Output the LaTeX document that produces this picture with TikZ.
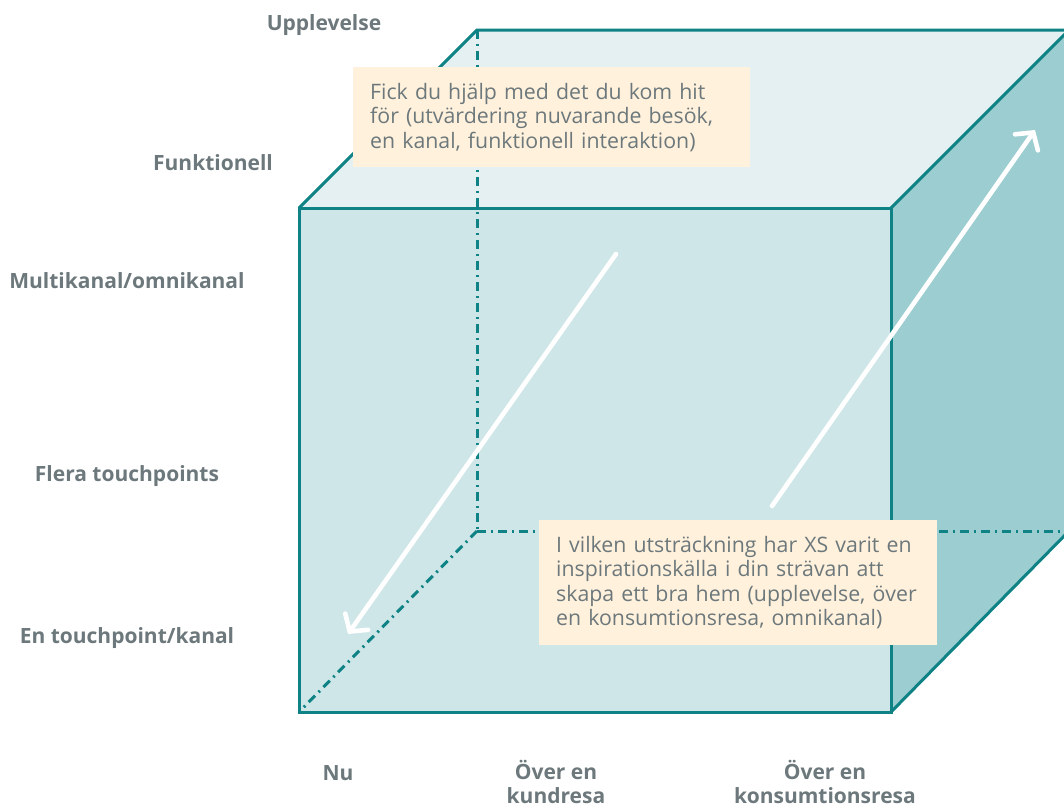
\documentclass[tikz,border=0pt]{standalone}
\usepackage{fontspec}
\setmainfont[Ligatures=NoCommon]{Open Sans}
\usetikzlibrary{arrows.meta, positioning}
\definecolor{cubeteal}{RGB}{14, 130, 132}
\definecolor{topfill}{RGB}{228, 240, 242}
\definecolor{frontfill}{RGB}{206, 230, 232}
\definecolor{sidefill}{RGB}{156, 205, 208}
\definecolor{notefill}{RGB}{255, 241, 220}
\definecolor{labelgray}{RGB}{108, 120, 123}

\begin{document}
\begin{tikzpicture}[x=1pt, y=-1pt,
  edge/.style={draw=cubeteal, line width=3pt, line join=miter},
  hidden/.style={draw=cubeteal, line width=3pt, dash pattern=on 9pt off 5pt on 2pt off 5pt},
  whitearrow/.style={draw=white, line width=4.6pt, line cap=round, -{Straight Barb[length=12pt, width=28pt, line cap=round]}},
  qbox/.style={fill=notefill, anchor=north west, inner xsep=17pt, inner ysep=11pt, align=left, text=labelgray, font=\fontsize{21.3}{24.5}\selectfont},
  axlabel/.style={text=labelgray, align=center, font=\fontsize{21}{23.5}\selectfont\bfseries}
]
  \useasboundingbox (0,0) rectangle (1064,807);
  \clip (0,0) rectangle (1064,807);
  % cube corners
  \coordinate (fbl) at (299,712);
  \coordinate (fbr) at (891,712);
  \coordinate (ftr) at (891,208);
  \coordinate (ftl) at (299,208);
  \coordinate (btl) at (477,30);
  \coordinate (btr) at (1069,30);
  \coordinate (bbr) at (1069,531);
  \coordinate (bbl) at (477,531);
  % faces
  \fill[topfill] (ftl) -- (btl) -- (btr) -- (ftr) -- cycle;
  \fill[sidefill] (ftr) -- (btr) -- (bbr) -- (fbr) -- cycle;
  \fill[frontfill] (fbl) rectangle (ftr);
  % hidden edges
  \draw[hidden] (btl) -- (bbl);
  \draw[hidden] (bbl) -- (bbr);
  \draw[hidden] (bbl) -- (fbl);
  % visible edges
  \draw[edge] (fbl) rectangle (ftr);
  \draw[edge] (ftl) -- (btl) -- (btr);
  \draw[edge] (ftr) -- (btr);
  \draw[edge] (fbr) -- (bbr);
  % arrows
  \coordinate (inA) at (616,254);
  \coordinate (inB) at (348,634);
  \coordinate (outA) at (772,506);
  \coordinate (outB) at (1035,130);
  \draw[whitearrow] (inA) -- (inB);
  \draw[whitearrow] (outA) -- (outB);
  % questions
  \node[qbox, text width=363pt, minimum height=100pt] (qnow) at (353,67)
    {Fick du hjälp med det du kom hit\\för (utvärdering nuvarande besök,\\en kanal, funktionell interaktion)};
  \node[qbox, text width=364pt, minimum height=125pt] (qhome) at (539,520)
    {I vilken utsträckning har XS varit en\\inspirationskälla i din strävan att\\skapa ett bra hem (upplevelse, över\\en konsumtionsresa, omnikanal)};
  % axis labels
  \node[axlabel] (lupp) at (324,25) {Upplevelse};
  \node[axlabel] (lfunk) at (213,163) {Funktionell};
  \node[axlabel] (lmulti) at (127,281) {Multikanal/omnikanal};
  \node[axlabel] (lflera) at (127,476) {Flera touchpoints};
  \node[axlabel] (len) at (127,638) {En touchpoint/kanal};
  \node[axlabel] (lnu) at (338,773) {Nu};
  \node[axlabel] (lkund) at (556,782) {Över en\\kundresa};
  \node[axlabel] (lkons) at (825,782) {Över en\\konsumtionsresa};
\end{tikzpicture}
\end{document}
